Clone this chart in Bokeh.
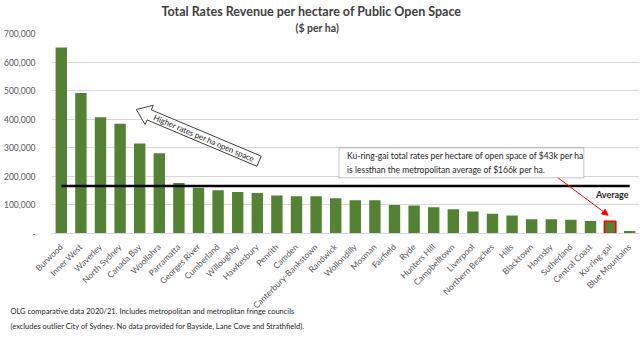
import math
from bokeh.plotting import figure
from bokeh.models import (FactorRange, Range1d, Title, Label, Arrow, NormalHead,
                          FixedTicker, NumeralTickFormatter, BoxAnnotation, ColumnDataSource)
from bokeh.embed import file_html
from bokeh.resources import INLINE

# ---------------- data ----------------
councils = ["Burwood", "Inner West", "Waverley", "North Sydney", "Canada Bay", "Woollahra",
            "Parramatta", "Georges River", "Cumberland", "Willoughby", "Hawkesbury", "Penrith",
            "Camden", "Canterbury-Bankstown", "Randwick", "Wollondilly", "Mosman", "Fairfield",
            "Ryde", "Hunters Hill", "Campbelltown", "Liverpool", "Northern Beaches", "Hills",
            "Blacktown", "Hornsby", "Sutherland", "Central Coast", "Ku-ring-gai", "Blue Mountains"]
rates = [651000, 492000, 407000, 384000, 315000, 281000,
         177000, 160000, 151000, 145000, 142000, 133000,
         130000, 130000, 123000, 116000, 116000, 100000,
         98000, 92000, 85000, 77000, 69000, 63000,
         50000, 50000, 48000, 44000, 43000, 9000]
average = 166000
highlight = "Ku-ring-gai"
y_ticks = [0, 100000, 200000, 300000, 400000, 500000, 600000, 700000]

title_text = "Total Rates Revenue per hectare of Public Open Space"
subtitle_text = "($ per ha)"
note_lines = ["OLG comparative data 2020/21. Includes metropolitan and metroplitan fringe councils",
              "(excludes outlier City of Sydney. No data provided for Bayside, Lane Cove and Strathfield)."]
callout_lines = ["Ku-ring-gai total rates per hectare of open space of $43k per ha",
                 "is lessthan the metropolitan average of $166k per ha."]
arrow_text = "Higher rates per ha open space"

# ---------------- layout ----------------
W, H = 642, 341
LEFT, RIGHT, TOP, BOTTOM = 48, 3, 32, 108
Y_MAX = 700000
FONT = "Lato"
GREEN = "#548235"

p = figure(width=W, height=H, x_range=FactorRange(factors=councils, range_padding=0),
           y_range=Range1d(0, Y_MAX), output_backend="svg", toolbar_location=None,
           min_border_left=LEFT, min_border_right=RIGHT, min_border_top=TOP,
           min_border_bottom=BOTTOM, title=None, background_fill_color="white",
           border_fill_color="white")
p.outline_line_color = None

# axes
p.yaxis.ticker = FixedTicker(ticks=y_ticks)
p.yaxis.formatter = NumeralTickFormatter(format="0,0")
p.yaxis.major_label_overrides = {0: "-"}
p.yaxis.axis_line_color = None
p.yaxis.major_tick_line_color = None
p.yaxis.minor_tick_line_color = None
p.yaxis.major_label_standoff = 10
p.yaxis.major_label_text_font = FONT
p.yaxis.major_label_text_font_size = "8.5px"
p.yaxis.major_label_text_color = "#595959"

p.xaxis.axis_line_color = "#d9d9d9"
p.xaxis.major_tick_line_color = None
p.xaxis.minor_tick_line_color = None
p.xaxis.major_label_orientation = math.pi / 4
p.xaxis.major_label_standoff = 6
p.xaxis.major_label_text_font = FONT
p.xaxis.major_label_text_font_size = "8.5px"
p.xaxis.major_label_text_color = "#595959"

p.xgrid.grid_line_color = None
p.ygrid.grid_line_color = "#d9d9d9"

# bars
src = ColumnDataSource(dict(council=councils, rate=rates))
p.vbar(x="council", top="rate", width=0.58, source=src, fill_color=GREEN, line_color=None)
hi_src = ColumnDataSource(dict(council=[c for c in councils if c == highlight],
                               rate=[r for c, r in zip(councils, rates) if c == highlight]))
p.vbar(x="council", top="rate", width=0.58, source=hi_src, fill_color=GREEN,
       line_color="#ff0000", line_width=1.6)

# average line
p.line(x=councils, y=[average] * len(councils), line_color="black", line_width=2.5)
p.add_layout(Label(x=29.44, y=135800, text="Average", text_align="right", text_baseline="middle",
                   text_font=FONT, text_font_size="9px", text_font_style="bold",
                   text_color="#262626"))

# callout box
p.add_layout(BoxAnnotation(left=14.67, right=27.16, bottom=195000, top=299500,
                           fill_color="white", fill_alpha=1, line_color="#404040",
                           line_width=1, level="overlay"))
for txt, yy in zip(callout_lines, [271600, 221800]):
    p.add_layout(Label(x=15.08, y=yy, text=txt, text_align="left", text_baseline="middle",
                       text_font=FONT, text_font_size="8.5px", text_color="#262626",
                       level="overlay"))

# red pointer arrow
p.add_layout(Arrow(x_start=25.48, y_start=213500, x_end=28.4, y_end=64000,
                   line_color="#ff0000", line_width=1,
                   end=NormalHead(size=6, fill_color="#ff0000", line_color="#ff0000")))

# hollow block arrow "Higher rates..."
px_x = (W - LEFT - RIGHT) / len(councils)      # pixels per category
px_y = (H - TOP - BOTTOM) / Y_MAX              # pixels per unit of value
tip = (4.33, 434000)
tail = (10.59, 253000)
def to_px(pt):            # y grows downward, like the screen
    return (pt[0] * px_x, -pt[1] * px_y)
def to_data(pt):
    return (pt[0] / px_x, -pt[1] / px_y)
tx, ty = to_px(tip)
cx, cy = to_px(tail)
L = math.hypot(tx - cx, ty - cy)
ux, uy = (tx - cx) / L, (ty - cy) / L
nx, ny = -uy, ux
shaft_hw, head_hw, head_len = 5.5, 10.5, 14
bx, by = tx - ux * head_len, ty - uy * head_len
poly_px = [(cx + nx * shaft_hw, cy + ny * shaft_hw),
           (bx + nx * shaft_hw, by + ny * shaft_hw),
           (bx + nx * head_hw, by + ny * head_hw),
           (tx, ty),
           (bx - nx * head_hw, by - ny * head_hw),
           (bx - nx * shaft_hw, by - ny * shaft_hw),
           (cx - nx * shaft_hw, cy - ny * shaft_hw)]
poly = [to_data(q) for q in poly_px]
p.patch(x=[q[0] for q in poly], y=[q[1] for q in poly], fill_color="white",
        line_color="#404040", line_width=1)
mid = to_data(((bx + cx) / 2, (by + cy) / 2))
text_angle = -math.atan2(cy - ty, cx - tx)     # clockwise on screen
p.add_layout(Label(x=mid[0], y=mid[1], text=arrow_text, angle=text_angle,
                   text_align="center", text_baseline="middle", text_font=FONT,
                   text_font_size="8px", text_color="#262626"))

# titles
p.add_layout(Title(text=subtitle_text, align="left", offset=244, standoff=0,
                   text_font=FONT, text_font_size="10.5px", text_font_style="bold",
                   text_color="#404040"), "above")
p.add_layout(Title(text=title_text, align="left", offset=110, standoff=2,
                   text_font=FONT, text_font_size="12.5px", text_font_style="bold",
                   text_color="#404040"), "above")

# footnote (one two-line title under the axis, pulled up with a negative standoff)
p.add_layout(Title(text="\n".join(note_lines), align="left", offset=-41, standoff=-24,
                   text_font=FONT, text_font_size="7.5px", text_font_style="normal",
                   text_line_height=1.7, text_color="#262626"), "below")

open("out.html", "w").write(file_html(p, INLINE))
